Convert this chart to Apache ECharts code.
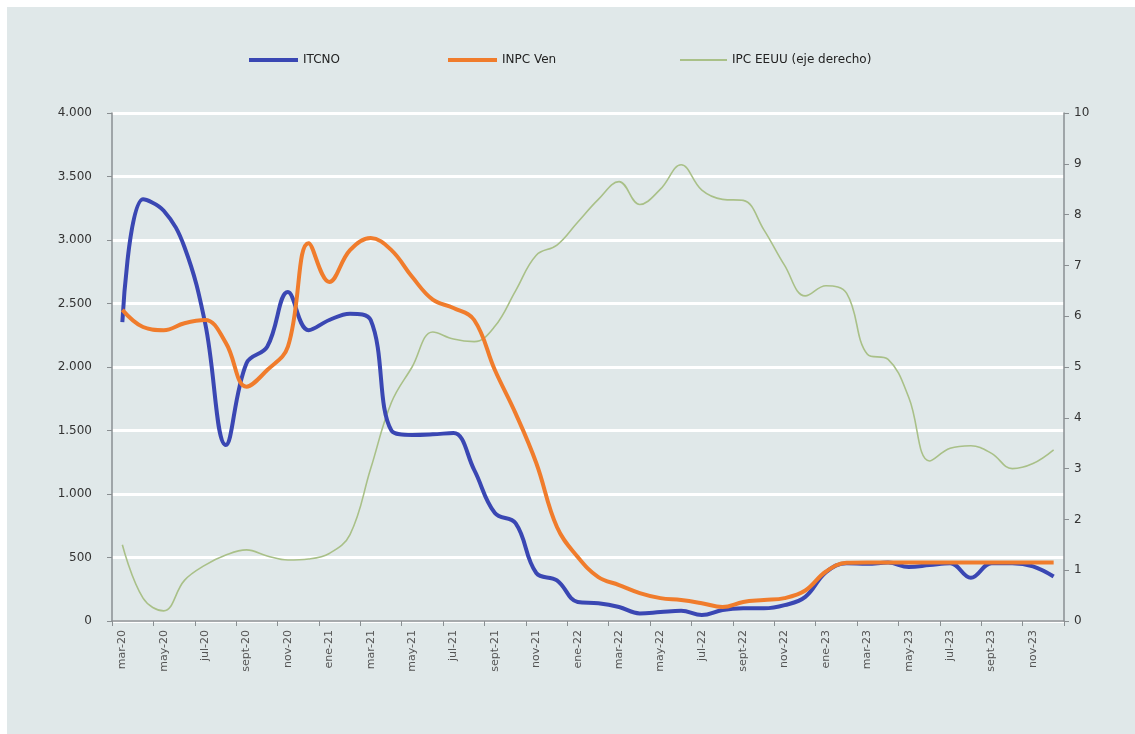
<!DOCTYPE html>
<html>
<head>
<meta charset="utf-8">
<script src="https://cdn.jsdelivr.net/npm/echarts@6/dist/echarts.min.js"></script>
<style>
html,body{margin:0;padding:0;background:#fff;}
#c{width:1135px;height:734px;}
</style>
</head>
<body>
<div id="c"></div>
<script>
const categories = ['mar-20','abr-20','may-20','jun-20','jul-20','ago-20','sept-20','oct-20','nov-20','dic-20',
'ene-21','feb-21','mar-21','abr-21','may-21','jun-21','jul-21','ago-21','sept-21','oct-21','nov-21','dic-21',
'ene-22','feb-22','mar-22','abr-22','may-22','jun-22','jul-22','ago-22','sept-22','oct-22','nov-22','dic-22',
'ene-23','feb-23','mar-23','abr-23','may-23','jun-23','jul-23','ago-23','sept-23','oct-23','nov-23','dic-23'];

const itcno = [2354,3320,3230,2945,2345,1386,2030,2160,2590,2290,
2370,2420,2370,1500,1465,1470,1480,1190,850,770,378,320,
150,140,110,60,70,80,47,87,100,100,125,190,
385,455,450,460,425,440,455,340,455,455,430,350];

const inpc = [2450,2315,2290,2345,2370,2190,1845,1976,2160,2975,
2670,2920,3015,2920,2710,2530,2465,2370,1976,1635,1244,740,
505,346,283,220,180,165,140,110,150,165,180,240,
390,458,460,460,460,460,460,460,460,460,460,460];

const ipc = [1.5,0.45,0.2,0.8,1.1,1.3,1.4,1.28,1.2,1.22,
1.33,1.7,3.0,4.3,5.0,5.69,5.55,5.5,5.8,6.5,7.2,7.4,
7.85,8.3,8.65,8.2,8.5,8.98,8.48,8.3,8.28,7.7,7.0,6.4,
6.6,6.45,5.25,5.15,4.4,3.15,3.4,3.45,3.3,3.0,3.1,3.37];

const chart = echarts.init(document.getElementById('c'), null, {renderer:'canvas'});
const fmtThousands = v => String(v).replace(/\B(?=(\d{3})+(?!\d))/g, '.');
const legendText = {fontFamily:'DejaVu Sans',fontSize:12,color:'#222'};

chart.setOption({
  backgroundColor:'#ffffff',
  animation:false,
  graphic:[{type:'rect',left:7,top:7,shape:{width:1128,height:727},style:{fill:'#e0e8e9'},z:-10}],
  legend:[
    {top:49,left:244,icon:'rect',itemWidth:49,itemHeight:4,itemGap:4,textStyle:legendText,data:['ITCNO']},
    {top:49,left:443,icon:'rect',itemWidth:49,itemHeight:4,itemGap:4,textStyle:legendText,data:['INPC Ven']},
    {top:49,left:675,icon:'rect',itemWidth:47,itemHeight:2,itemGap:4,textStyle:legendText,data:['IPC EEUU (eje derecho)']}
  ],
  grid:{left:112,right:71,top:113,bottom:113,containLabel:false},
  xAxis:{
    type:'category',
    data:categories,
    boundaryGap:true,
    axisLine:{lineStyle:{color:'#8a8f92',width:1.5}},
    axisTick:{show:true,interval:1,length:5,lineStyle:{color:'#8a8f92'}},
    axisLabel:{interval:1,rotate:90,fontSize:11,color:'#555',fontFamily:'DejaVu Sans',margin:9},
    splitLine:{show:false}
  },
  yAxis:[{
    type:'value',min:0,max:4000,interval:500,
    axisLine:{show:true,lineStyle:{color:'#8a8f92',width:1.5}},
    axisTick:{show:true,length:5,lineStyle:{color:'#8a8f92'}},
    axisLabel:{formatter:v=>fmtThousands(v),fontSize:12,color:'#333',fontFamily:'DejaVu Sans',margin:20},
    splitLine:{show:true,lineStyle:{color:'#ffffff',width:3}}
  },{
    type:'value',min:0,max:10,interval:1,position:'right',
    axisLine:{show:true,lineStyle:{color:'#8a8f92',width:1.5}},
    axisTick:{show:true,length:5,lineStyle:{color:'#8a8f92'}},
    axisLabel:{fontSize:12,color:'#333',fontFamily:'DejaVu Sans',margin:10},
    splitLine:{show:false}
  }],
  series:[
    {name:'ITCNO',type:'line',data:itcno,yAxisIndex:0,smooth:0.4,symbol:'none',
      lineStyle:{color:'#3a47b3',width:4},itemStyle:{color:'#3a47b3'},z:3},
    {name:'INPC Ven',type:'line',data:inpc,yAxisIndex:0,smooth:0.4,symbol:'none',
      lineStyle:{color:'#f07c2c',width:4},itemStyle:{color:'#f07c2c'},z:4},
    {name:'IPC EEUU (eje derecho)',type:'line',data:ipc,yAxisIndex:1,smooth:0.4,symbol:'none',
      lineStyle:{color:'#a9c088',width:1.6},itemStyle:{color:'#a9c088'},z:2}
  ]
});
</script>
</body>
</html>
